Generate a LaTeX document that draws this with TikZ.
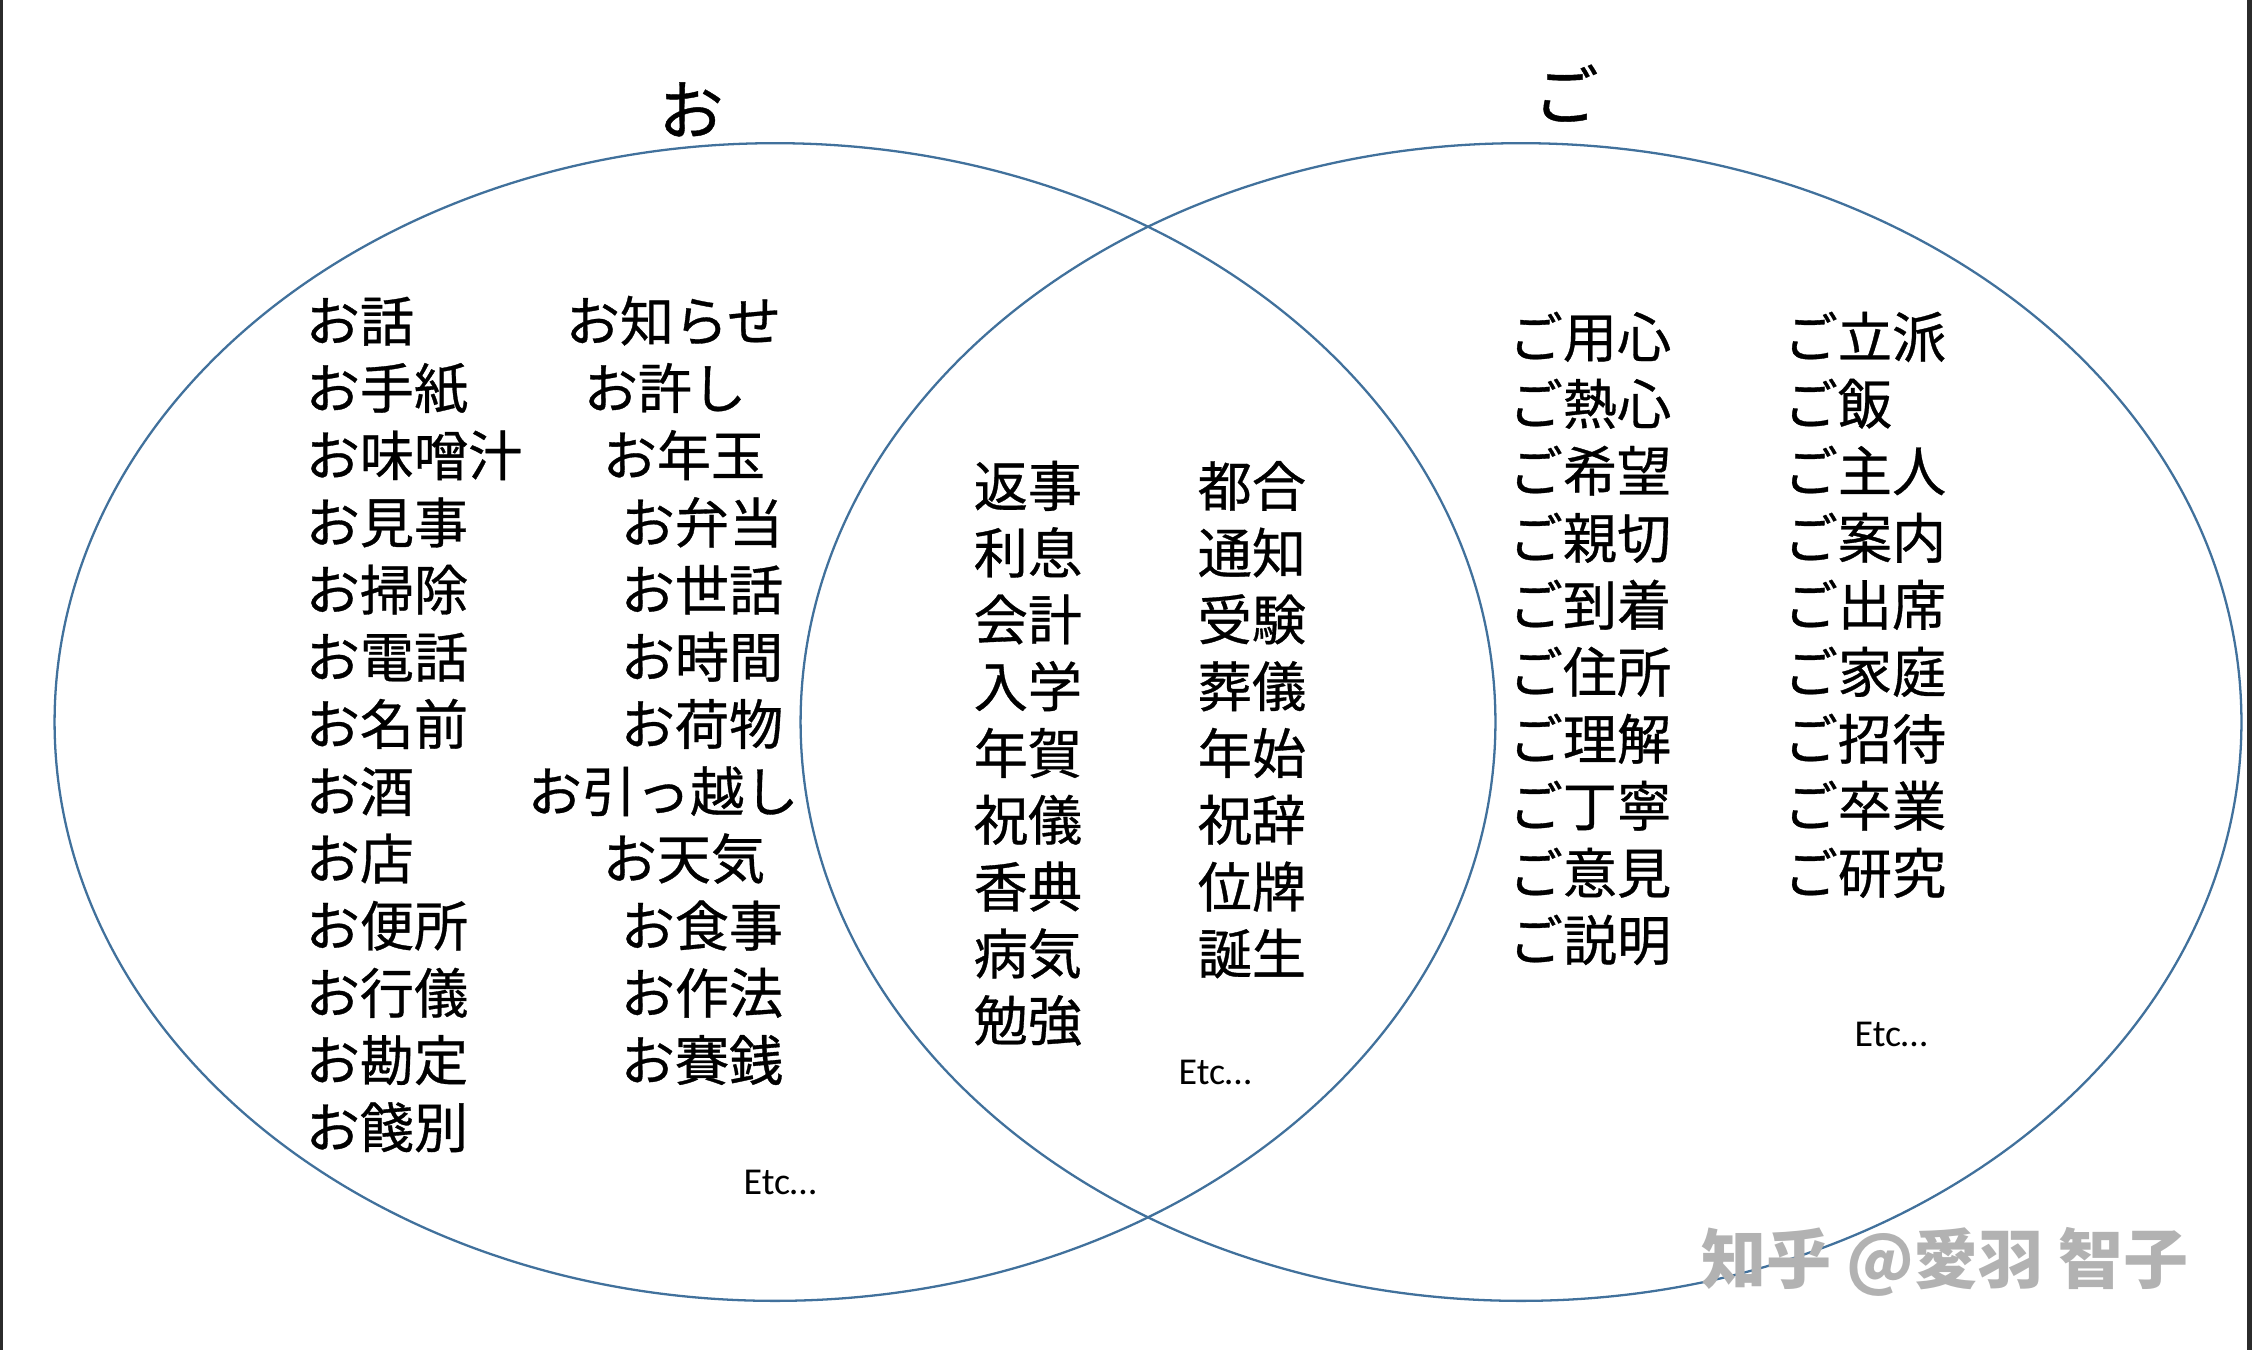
\documentclass[tikz,border=0pt]{standalone}
\usepackage{fontspec}
\setmainfont{Noto Sans CJK JP}[FakeBold=0.6]
\newfontfamily\etcfont{Carlito}
\newfontfamily\zhfont{Noto Sans CJK SC}
\usetikzlibrary{positioning}
\definecolor{vennblue}{HTML}{41719C}
\definecolor{edgegray}{HTML}{2B2B2B}

\begin{document}
\begin{tikzpicture}[
    x=0.01cm, y=-0.01cm,
    word/.style={anchor=west, inner sep=0pt, text height=0.88em,
                 text depth=0.12em, font=\fontsize{15.4pt}{18pt}\selectfont},
    heading/.style={word, anchor=center,
                    font=\fontsize{18.5pt}{22pt}\selectfont},
    etc/.style={inner sep=0pt, font=\etcfont\fontsize{10.8pt}{13pt}\selectfont},
    venn/.style={draw=vennblue, line width=0.65pt},
    watermark/.style={inner sep=0pt, text=black!30,
                      font=\zhfont\bfseries\fontsize{18.5pt}{22pt}\selectfont},
  ]
  \useasboundingbox (0,0) rectangle (2252,1350);
  \fill[edgegray] (0,0) rectangle (3,1350);
  \fill[edgegray] (2247,0) rectangle (2252,1350);

  % the two sets
  \coordinate (oc) at (775,722);
  \coordinate (gc) at (1521,722);
  \draw[venn] (oc) ellipse [x radius=7.2cm, y radius=5.785cm];
  \draw[venn] (gc) ellipse [x radius=7.2cm, y radius=5.785cm];

  \node[heading] (ohead) at (691,121) {お};
  \node[heading] (gohead) at (1566,106) {ご};

  % only お
  \foreach \w [count=\i] in {お話,お手紙,お味噌汁,お見事,お掃除,お電話,お名前,
                              お酒,お店,お便所,お行儀,お勘定,お餞別}
    \node[word] (oa\i) at (305, 328+67.2*\i-67.2) {\w};
  \foreach \w/\x [count=\i] in {お知らせ/565,お許し/583,お年玉/602,お弁当/620,
                                 お世話/620,お時間/620,お荷物/620,お引っ越し/527,
                                 お天気/602,お食事/620,お作法/620,お賽銭/620}
    \node[word] (ob\i) at (\x, 328+67.2*\i-67.2) {\w};
  \node[etc] (oetc) at (780,1182) {Etc…};

  % neither prefix
  \foreach \w [count=\i] in {返事,利息,会計,入学,年賀,祝儀,香典,病気,勉強}
    \node[word] (ma\i) at (973, 493+66.8*\i-66.8) {\w};
  \foreach \w [count=\i] in {都合,通知,受験,葬儀,年始,祝辞,位牌,誕生}
    \node[word] (mb\i) at (1197, 493+66.8*\i-66.8) {\w};
  \node[etc] (metc) at (1215,1072) {Etc…};

  % only ご
  \foreach \w [count=\i] in {ご用心,ご熱心,ご希望,ご親切,ご到着,ご住所,ご理解,
                              ご丁寧,ご意見,ご説明}
    \node[word] (ga\i) at (1508, 344+67*\i-67) {\w};
  \foreach \w [count=\i] in {ご立派,ご飯,ご主人,ご案内,ご出席,ご家庭,ご招待,
                              ご卒業,ご研究}
    \node[word] (gb\i) at (1783, 344+67*\i-67) {\w};
  \node[etc] (getc) at (1891,1034) {Etc…};

  \node[watermark] (zh) at (1945,1262) {知乎 @愛羽 智子};
\end{tikzpicture}
\end{document}
